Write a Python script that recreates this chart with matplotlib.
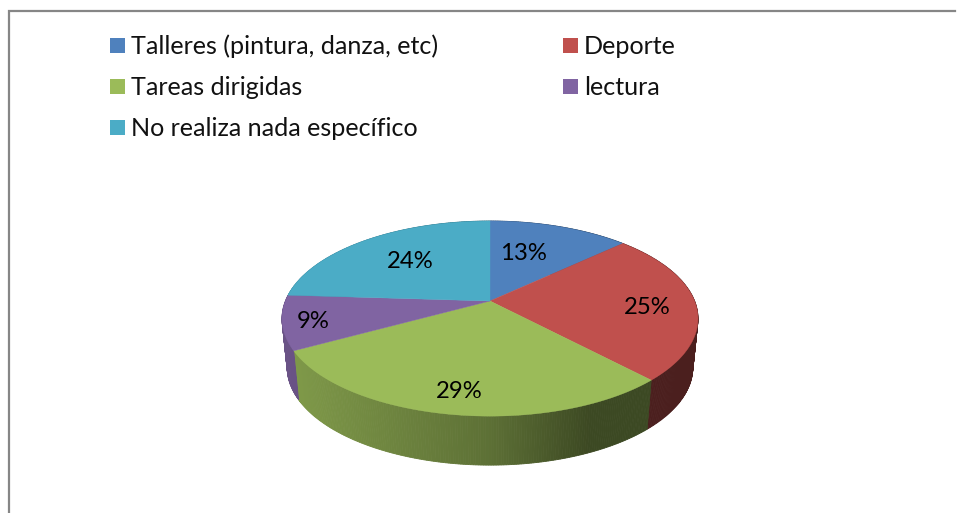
import matplotlib
matplotlib.use("Agg")
import matplotlib.pyplot as plt
from matplotlib.colors import to_rgb
import numpy as np

labels = ["Talleres (pintura, danza, etc)", "Deporte", "Tareas dirigidas", "lectura", "No realiza nada específico"]
values = [13, 25, 29, 9, 24]
colors = ["#4F81BD", "#C0504D", "#9BBB59", "#8064A2", "#4BACC6"]

plt.rcParams["font.family"] = ["Lato", "DejaVu Sans"]

# pixel coordinates of the reference, y going down
fig = plt.figure(figsize=(9.57, 5.13), dpi=100)
ax = fig.add_axes([0, 0, 1, 1])
ax.set_xlim(0, 957)
ax.set_ylim(513, 0)
ax.axis("off")

# chart frame
ax.plot([8.5, 8.5, 955], [513, 10.5, 10.5], color="#868686", lw=1.6, solid_joinstyle="miter")

# tilted pie: the circle goes through a small perspective mapping
cx, cy = 490, 301
depth = 49
bottom_scale = 0.975


def project(theta):
    s, c = np.sin(theta), np.cos(theta)
    d = 1 + 0.18 * c
    return cx + 204.6 * s / d, cy - 94.4 * c / d


def shade(x):
    return np.interp(x, [282, 490, 590, 698], [0.83, 0.60, 0.39, 0.39])


edges = np.cumsum([0] + values) / sum(values) * 2 * np.pi

# side wall first, cut in thin strips for the gradient
for i, col in enumerate(colors):
    th = np.linspace(edges[i], edges[i + 1], int(values[i] * 6) + 2)
    for a, b in zip(th[:-1], th[1:]):
        xa, ya = project(a)
        xb, yb = project(b)
        xa2 = cx + (xa - cx) * bottom_scale
        xb2 = cx + (xb - cx) * bottom_scale
        rgb = np.array(to_rgb(col)) * shade((xa + xb) / 2)
        ax.fill([xa, xb, xb2, xa2], [ya, yb, yb + depth, ya + depth],
                color=rgb, lw=0.6, zorder=2)

# top face
for i, col in enumerate(colors):
    th = np.linspace(edges[i], edges[i + 1], 120)
    x, y = project(th)
    ax.fill(np.r_[cx, x], np.r_[cy, y], color=col, lw=0.3, zorder=3)

# percent labels
pct_x = [523, 647, 459, 313, 410]
pct_y = [253, 307, 391, 321, 261]
for v, px, py in zip(values, pct_x, pct_y):
    ax.text(px, py, f"{v}%", ha="center", va="center", fontsize=17.2, color="black", zorder=4)

# legend
leg_x = [110, 563, 110, 563, 110]
leg_y = [45, 45, 86, 86, 127]
for lab, col, lx, ly in zip(labels, colors, leg_x, leg_y):
    ax.fill([lx, lx + 15, lx + 15, lx], [ly - 7.5, ly - 7.5, ly + 7.5, ly + 7.5], color=col, lw=0)
    ax.text(lx + 21, ly + 1.5, lab, ha="left", va="center", fontsize=18.1, color="#111111")

fig.savefig("out.png", dpi=100, facecolor="white")
plt.close()
